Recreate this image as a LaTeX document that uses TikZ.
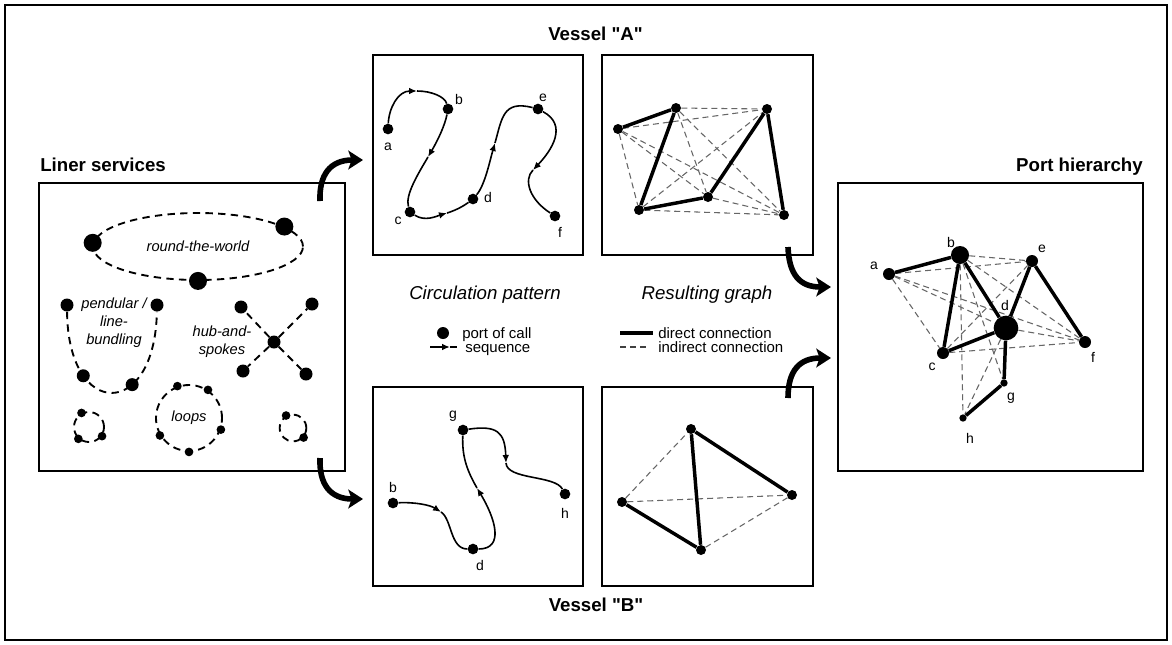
\documentclass[tikz,border=0pt]{standalone}
\usepackage{fontspec}
\setmainfont{Liberation Sans}
\newfontfamily\plainsf{Liberation Sans}
\usetikzlibrary{arrows.meta,shapes.geometric}
\begin{document}
\begin{tikzpicture}[x=0.75pt,y=-0.75pt,
  panel/.style={draw, line width=1.2pt, inner sep=0pt, rectangle},
  title/.style={font=\plainsf\bfseries\fontsize{14}{16}\selectfont, inner sep=0pt},
  head/.style={font=\itshape\fontsize{14}{16}\selectfont, inner sep=0pt},
  legtxt/.style={font=\fontsize{11.25}{13}\selectfont, inner sep=0pt, anchor=base west},
  itxt/.style={font=\itshape\fontsize{11}{13.5}\selectfont, inner sep=0pt},
  lbl/.style={font=\fontsize{10.5}{12}\selectfont, inner sep=0pt},
  bigdot/.style={circle, fill, inner sep=0pt, minimum size=13.5pt},
  meddot/.style={circle, fill, inner sep=0pt, minimum size=9.75pt},
  smalldot/.style={circle, fill, inner sep=0pt, minimum size=6.5pt},
  vdot/.style={circle, fill, inner sep=0pt, minimum size=8pt},
  gdot/.style={circle, fill, inner sep=0pt, minimum size=7.5pt},
  pdotXL/.style={circle, fill, inner sep=0pt, minimum size=18.5pt},
  pdotL/.style={circle, fill, inner sep=0pt, minimum size=13.5pt},
  pdotM/.style={circle, fill, inner sep=0pt, minimum size=9pt},
  pdotS/.style={circle, fill, inner sep=0pt, minimum size=5.5pt},
  lsdash/.style={line width=1.4pt, dash pattern=on 5.5pt off 4pt},
  gdash/.style={draw=black!60, line width=0.8pt, dash pattern=on 4.5pt off 3pt},
  dedge/.style={line width=2.6pt},
  circline/.style={line width=1.2pt},
  seqtip/.style={circline, -{Latex[length=6pt,width=5pt]}},
  bigarrow/.style={line width=4.2pt, -{Stealth[length=11pt,width=14pt,inset=2.5pt]}},
]
\useasboundingbox (0,0) rectangle (1172,644);
\draw[line width=1.5pt] (5,5) rectangle (1167,640);

% panels
\node[panel, minimum width=229.5pt, minimum height=216pt] (liner) at (192,327) {};
\node[panel, minimum width=157.5pt, minimum height=150pt] (vA1) at (478,155) {};
\node[panel, minimum width=158.25pt, minimum height=150pt] (vA2) at (707.5,155) {};
\node[panel, minimum width=157.5pt, minimum height=149.5pt] (vB1) at (478,486.5) {};
\node[panel, minimum width=158.25pt, minimum height=149.5pt] (vB2) at (707.5,486.5) {};
\node[panel, minimum width=228.75pt, minimum height=216pt] (port) at (990.5,327) {};

% titles
\node[title, anchor=base west] (tLiner) at (40,171) {Liner services};
\node[title, anchor=base east] (tPort) at (1143,171) {Port hierarchy};
\node[title, anchor=base] (tVA) at (595.5,40) {Vessel "A"};
\node[title, anchor=base] (tVB) at (596,611) {Vessel "B"};

% ---- liner services content
\node[ellipse, draw, lsdash, minimum width=157.5pt, minimum height=50.25pt, inner sep=0pt, itxt] (rtw) at (198,246.5) {round-the-world};
\node[bigdot] (rtw1) at (rtw.178) {};
\node[bigdot] (rtw2) at (rtw.13) {};
\node[bigdot] (rtw3) at (rtw.270) {};

\node[meddot] (pl1) at (67,305) {};
\node[meddot] (pl2) at (157,305) {};
\draw[lsdash] (pl1) .. controls (68,420) and (155,420) .. (pl2)
  node[meddot, pos=0.27] (pl3) {} node[meddot, pos=0.66] (pl4) {};
\node[itxt, align=center] (pltxt) at (114,323) {pendular /\\line-\\bundling};

\node[meddot] (hub) at (274,342) {};
\node[meddot] (sp1) at (241,307) {};
\node[meddot] (sp2) at (312,304) {};
\node[meddot] (sp3) at (243,371) {};
\node[meddot] (sp4) at (306,374) {};
\draw[lsdash] (hub) -- (sp1);
\draw[lsdash] (hub) -- (sp2);
\draw[lsdash] (hub) -- (sp3);
\draw[lsdash] (hub) -- (sp4);
\node[itxt, align=center] (hubtxt) at (222,342) {hub-and-\\spokes};

\node[circle, draw, lsdash, minimum size=49.5pt, inner sep=0pt, itxt] (loop) at (189,418) {loops};
\node[smalldot] (lp1) at (loop.110) {};
\node[smalldot] (lp2) at (loop.56) {};
\node[smalldot] (lp3) at (loop.-20) {};
\node[smalldot] (lp4) at (loop.270) {};
\node[smalldot] (lp5) at (loop.211) {};
\node[circle, draw, lsdash, minimum size=22.5pt, inner sep=0pt] (sl1) at (89,427) {};
\node[smalldot] (sl1a) at (sl1.118) {};
\node[smalldot] (sl1b) at (sl1.228) {};
\node[smalldot] (sl1c) at (sl1.325) {};
\node[circle, draw, lsdash, minimum size=20pt, inner sep=0pt] (sl2) at (293,428) {};
\node[smalldot] (sl2a) at (sl2.119) {};
\node[smalldot] (sl2b) at (sl2.318) {};

% ---- big arrows
\coordinate (ar1s) at (320,201); \coordinate (ar1e) at (363,160);
\draw[bigarrow] (ar1s) .. controls (319,175) and (330,160) .. (ar1e);
\coordinate (ar2s) at (320,458); \coordinate (ar2e) at (363,499);
\draw[bigarrow] (ar2s) .. controls (319,484) and (330,499) .. (ar2e);
\coordinate (ar3s) at (788,247); \coordinate (ar3e) at (831,287);
\draw[bigarrow] (ar3s) .. controls (789,275) and (800,287) .. (ar3e);
\coordinate (ar4s) at (788,398); \coordinate (ar4e) at (831,358);
\draw[bigarrow] (ar4s) .. controls (788,370) and (800,358) .. (ar4e);

% ---- vessel A circulation
\node[vdot] (Aa) at (388,129) {};
\node[vdot] (Ab) at (448,109) {};
\node[vdot] (Ac) at (410,212) {};
\node[vdot] (Ad) at (473,199) {};
\node[vdot] (Ae) at (538,109) {};
\node[vdot] (Af) at (555,216) {};
\node[lbl] (lAa) at (388,147) {a};
\node[lbl] (lAb) at (459,99) {b};
\node[lbl] (lAc) at (398,221) {c};
\node[lbl] (lAd) at (488,197) {d};
\node[lbl] (lAe) at (543,98) {e};
\node[lbl] (lAf) at (560,232) {f};
\coordinate (m1) at (417,91);
\coordinate (m2) at (428,157);
\coordinate (m3) at (447,213);
\coordinate (m4) at (495,143);
\coordinate (m5) at (533,170);
\draw[seqtip] (Aa) .. controls (389,108) and (398,91) .. (m1);
\draw[circline] (m1) .. controls (432,91) and (445,97) .. (Ab);
\draw[seqtip] (Ab) .. controls (445,125) and (438,140) .. (m2);
\draw[circline] (m2) .. controls (418,174) and (405,195) .. (Ac);
\draw[seqtip] (Ac) .. controls (425,222) and (437,216) .. (m3);
\draw[circline] (m3) .. controls (457,210) and (465,205) .. (Ad);
\draw[seqtip] (Ad) .. controls (485,185) and (490,160) .. (m4);
\draw[circline] (m4) .. controls (502,118) and (503,100) .. (Ae);
\draw[seqtip] (Ae) .. controls (568,125) and (552,150) .. (m5);
\draw[circline] (m5) .. controls (523,180) and (530,200) .. (Af);

% ---- vessel A graph
\node[gdot] (Ga) at (618,129) {};
\node[gdot] (Gb) at (676,108) {};
\node[gdot] (Gc) at (639,210) {};
\node[gdot] (Gd) at (708,197) {};
\node[gdot] (Ge) at (767,109) {};
\node[gdot] (Gf) at (784,215) {};
\draw[gdash] (Ga) -- (Gc);
\draw[gdash] (Ga) -- (Gd);
\draw[gdash] (Ga) -- (Ge);
\draw[gdash] (Ga) -- (Gf);
\draw[gdash] (Gb) -- (Gd);
\draw[gdash] (Gb) -- (Ge);
\draw[gdash] (Gb) -- (Gf);
\draw[gdash] (Gc) -- (Ge);
\draw[gdash] (Gc) -- (Gf);
\draw[gdash] (Gd) -- (Gf);
\draw[dedge] (Ga) -- (Gb);
\draw[dedge] (Gb) -- (Gc);
\draw[dedge] (Gc) -- (Gd);
\draw[dedge] (Gd) -- (Ge);
\draw[dedge] (Ge) -- (Gf);

% ---- vessel B circulation
\node[vdot] (Bb) at (393,503) {};
\node[vdot] (Bg) at (463,430) {};
\node[vdot] (Bd) at (473,549) {};
\node[vdot] (Bh) at (565,494) {};
\node[lbl] (lBb) at (393,487) {b};
\node[lbl] (lBg) at (453,416) {g};
\node[lbl] (lBd) at (480,565) {d};
\node[lbl] (lBh) at (565,513) {h};
\coordinate (n1) at (441,512);
\coordinate (n2) at (477,488);
\coordinate (n3) at (506,463);
\draw[seqtip] (Bb) .. controls (415,502) and (430,505) .. (n1);
\draw[circline] (n1) .. controls (452,519) and (450,549) .. (Bd);
\draw[seqtip] (Bd) .. controls (505,549) and (495,518) .. (n2);
\draw[circline] (n2) .. controls (466,469) and (462,455) .. (Bg);
\draw[seqtip] (Bg) .. controls (497,425) and (505,432) .. (n3);
\draw[circline] (n3) .. controls (507,480) and (555,475) .. (Bh);

% ---- vessel B graph
\node[gdot] (Hb) at (622,502) {};
\node[gdot] (Hg) at (691,429) {};
\node[gdot] (Hd) at (701,550) {};
\node[gdot] (Hh) at (792,495) {};
\draw[gdash] (Hb) -- (Hg);
\draw[gdash] (Hb) -- (Hh);
\draw[gdash] (Hd) -- (Hh);
\draw[dedge] (Hb) -- (Hd);
\draw[dedge] (Hd) -- (Hg);
\draw[dedge] (Hg) -- (Hh);

% ---- legend
\node[head] (hCirc) at (485,295) {Circulation pattern};
\node[head] (hRes) at (707,295) {Resulting graph};
\node[circle, fill, inner sep=0pt, minimum size=9pt] (legdot) at (443,333) {};
\node[legtxt] (legdott) at (462,338) {port of call};
\coordinate (sq1) at (430,347); \coordinate (sq2) at (450,347); \coordinate (sq3) at (457,347);
\draw[seqtip] (sq1) -- (sq2);
\draw[circline] (sq2) -- (sq3);
\node[legtxt] (legseq) at (465,352) {sequence};
\coordinate (dl1) at (620,333); \coordinate (dl2) at (653,333);
\draw[dedge] (dl1) -- (dl2);
\node[legtxt] (legdir) at (658,338) {direct connection};
\coordinate (il1) at (620,347); \coordinate (il2) at (649,347);
\draw[gdash, draw=black!75] (il1) -- (il2);
\node[legtxt] (legind) at (658,352) {indirect connection};

% ---- port hierarchy
\node[pdotM] (Pa) at (889,274) {};
\node[pdotL] (Pb) at (960,255) {};
\node[pdotM] (Pe) at (1032,261) {};
\node[pdotXL] (Pd) at (1006,328) {};
\node[pdotM] (Pc) at (943,353) {};
\node[pdotM] (Pf) at (1085,342) {};
\node[pdotS] (Pg) at (1004,383) {};
\node[pdotS] (Ph) at (963,418) {};
\node[lbl] (lPa) at (874,266) {a};
\node[lbl] (lPb) at (951,242) {b};
\node[lbl] (lPe) at (1042,249) {e};
\node[lbl] (lPd) at (1005,305) {d};
\node[lbl] (lPc) at (932,367) {c};
\node[lbl] (lPf) at (1093,357) {f};
\node[lbl] (lPg) at (1011,398) {g};
\node[lbl] (lPh) at (970,438) {h};
\draw[gdash] (Pa) -- (Pc);
\draw[gdash] (Pa) -- (Pd);
\draw[gdash] (Pa) -- (Pe);
\draw[gdash] (Pa) -- (Pf);
\draw[gdash] (Pb) -- (Pe);
\draw[gdash] (Pb) -- (Pf);
\draw[gdash] (Pc) -- (Pe);
\draw[gdash] (Pc) -- (Pf);
\draw[gdash] (Pd) -- (Pf);
\draw[gdash] (Pb) -- (Pg);
\draw[gdash] (Pb) -- (Ph);
\draw[gdash] (Pd) -- (Ph);
\draw[dedge] (Pa) -- (Pb);
\draw[dedge] (Pb) -- (Pc);
\draw[dedge] (Pb) -- (Pd);
\draw[dedge] (Pc) -- (Pd);
\draw[dedge] (Pd) -- (Pe);
\draw[dedge] (Pe) -- (Pf);
\draw[dedge] (Pd) -- (Pg);
\draw[dedge] (Pg) -- (Ph);
\end{tikzpicture}
\end{document}
